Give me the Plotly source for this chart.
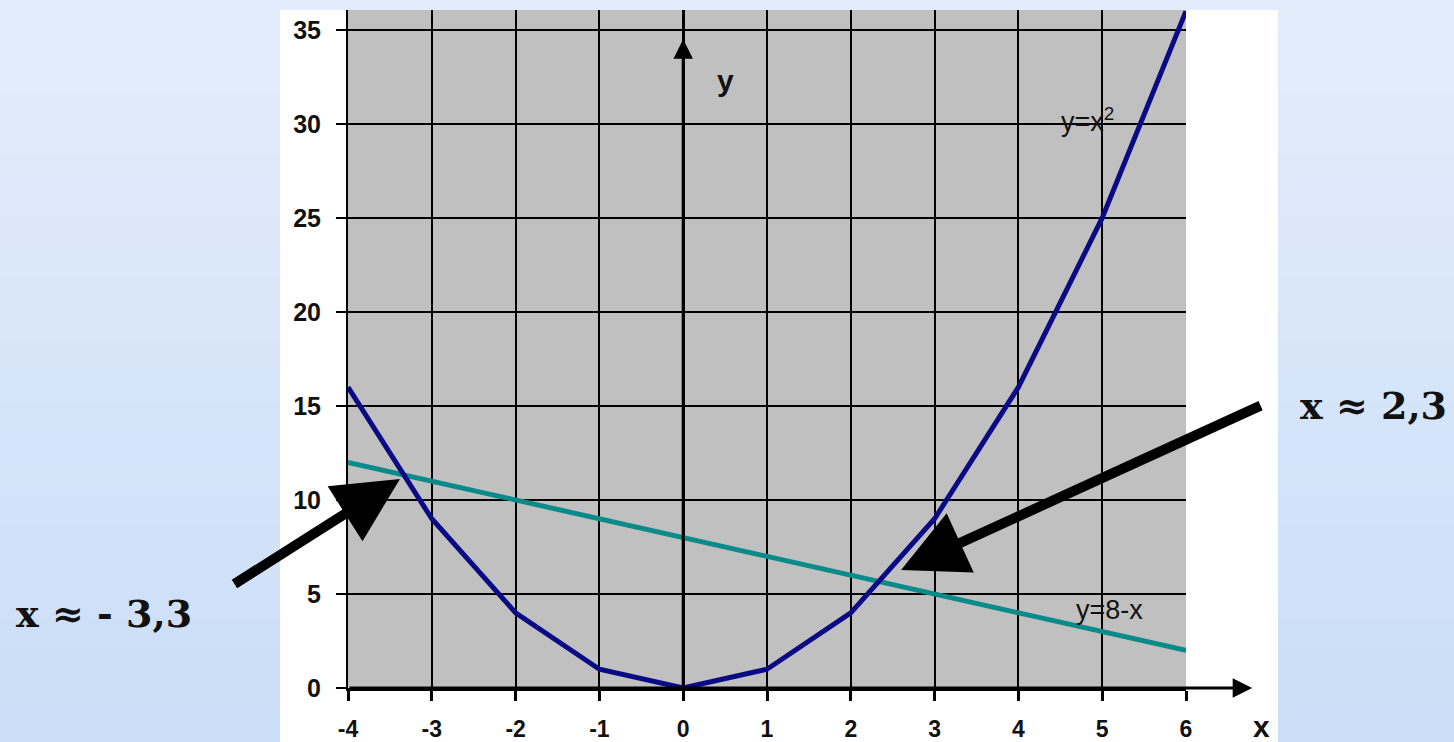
import plotly.graph_objects as go

# data
x_vals = [-4, -3, -2, -1, 0, 1, 2, 3, 4, 5, 6]
y_square = [16, 9, 4, 1, 0, 1, 4, 9, 16, 25, 36]
y_line = [12, 11, 10, 9, 8, 7, 6, 5, 4, 3, 2]
x_ticks = [-4, -3, -2, -1, 0, 1, 2, 3, 4, 5, 6]
x_ticktext = ["-4", "-3", "-2", "-1", "0", "1", "2", "3", "4", "5", "6"]
y_ticks = [0, 5, 10, 15, 20, 25, 30, 35]
roots = ["x ≈ - 3,3", "x ≈ 2,3"]

W, H = 1454, 742
L, R, T, B = 348, 1186, 10, 688


def px_to_paper(px, py):
    return (px - L) / (R - L), (B - py) / (B - T)


fig = go.Figure()

fig.add_trace(go.Scatter(x=x_vals, y=y_line, mode="lines",
                         line=dict(color="#0b8a8a", width=5), hoverinfo="skip"))
fig.add_trace(go.Scatter(x=x_vals, y=y_square, mode="lines",
                         line=dict(color="#0a0a85", width=5), hoverinfo="skip"))

# blue background outside the white panel (simple vertical gradient)
shapes = []
n = 24
top_c = (227, 236, 251)
bot_c = (203, 222, 247)
for i in range(n):
    t = i / (n - 1)
    c = tuple(round(top_c[k] + (bot_c[k] - top_c[k]) * t) for k in range(3))
    col = "rgb(%d,%d,%d)" % c
    y0p, y1p = H * i / n, H * (i + 1) / n + 1
    for xa, xb in [(0, 280), (1278, W)]:
        x0, y0 = px_to_paper(xa, y1p)
        x1, y1 = px_to_paper(xb, y0p)
        shapes.append(dict(type="rect", xref="paper", yref="paper",
                           x0=x0, x1=x1, y0=y0, y1=y1,
                           fillcolor=col, line_width=0, layer="below"))
    if y0p < 10:
        x0, y0 = px_to_paper(280, 10)
        x1, y1 = px_to_paper(1278, 0)
        shapes.append(dict(type="rect", xref="paper", yref="paper",
                           x0=x0, x1=x1, y0=y0, y1=y1,
                           fillcolor=col, line_width=0, layer="below"))

fig.update_layout(shapes=shapes)

annotations = []
# axis arrows
annotations.append(dict(x=6.79, y=0, ax=-4, ay=0, xref="x", yref="y", axref="x", ayref="y",
                        text="", showarrow=True, arrowhead=2, arrowsize=1.3, arrowwidth=3,
                        arrowcolor="black"))
annotations.append(dict(x=0, y=34.5, ax=0, ay=0, xref="x", yref="y", axref="x", ayref="y",
                        text="", showarrow=True, arrowhead=2, arrowsize=1.3, arrowwidth=3,
                        arrowcolor="black"))
# axis letters
annotations.append(dict(x=0.5, y=32.3, text="<b>y</b>", showarrow=False,
                        font=dict(family="Liberation Sans", size=30, color="#111")))
lx, ly = px_to_paper(1261, 726)
annotations.append(dict(x=lx, y=ly, xref="paper", yref="paper", text="<b>x</b>",
                        showarrow=False, xanchor="center", yanchor="middle",
                        font=dict(family="Liberation Sans", size=30, color="#111")))
# curve labels
annotations.append(dict(x=4.82, y=30.2, text="y=x<sup>2</sup>", showarrow=False,
                        font=dict(family="Liberation Sans", size=27, color="#111")))
annotations.append(dict(x=5.09, y=4.15, text="y=8-x", showarrow=False,
                        font=dict(family="Liberation Sans", size=27, color="#111")))
# pointer arrows
annotations.append(dict(x=-3.38, y=11.12, ax=-167, ay=106, xref="x", yref="y",
                        text="", showarrow=True, arrowhead=2, arrowsize=1.3, arrowwidth=10,
                        arrowcolor="black"))
annotations.append(dict(x=2.60, y=6.28, ax=361, ay=-165, xref="x", yref="y",
                        text="", showarrow=True, arrowhead=2, arrowsize=1.3, arrowwidth=10,
                        arrowcolor="black"))
# root labels
px1, py1 = px_to_paper(104, 613)
annotations.append(dict(x=px1, y=py1, xref="paper", yref="paper", text="<b>%s</b>" % roots[0],
                        showarrow=False, xanchor="center", yanchor="middle",
                        font=dict(family="DejaVu Serif", size=38, color="#111")))
px2, py2 = px_to_paper(1373, 405)
annotations.append(dict(x=px2, y=py2, xref="paper", yref="paper", text="<b>%s</b>" % roots[1],
                        showarrow=False, xanchor="center", yanchor="middle",
                        font=dict(family="DejaVu Serif", size=38, color="#111")))

fig.update_layout(
    annotations=annotations,
    width=W, height=H,
    margin=dict(l=L, r=W - R, t=T, b=H - B, pad=0, autoexpand=False),
    paper_bgcolor="white",
    plot_bgcolor="#c0c0c0",
    showlegend=False,
)

fig.update_xaxes(
    range=[-4, 6], tickvals=x_ticks, ticktext=x_ticktext,
    showgrid=True, gridcolor="black", gridwidth=1.5,
    zeroline=True, zerolinecolor="black", zerolinewidth=3,
    showline=True, linecolor="black", linewidth=3,
    ticks="outside", ticklen=10, tickwidth=3, tickcolor="black",
    ticklabelstandoff=8, automargin=False,
    tickfont=dict(family="Liberation Sans", size=23, color="#111", weight="bold"),
    fixedrange=True,
)
fig.update_yaxes(
    range=[0, 36.06], tickvals=y_ticks,
    showgrid=True, gridcolor="black", gridwidth=1.5,
    zeroline=False,
    showline=True, linecolor="black", linewidth=2,
    ticks="outside", ticklen=10, tickwidth=1.5, tickcolor="black",
    ticklabelstandoff=10, automargin=False,
    tickfont=dict(family="Liberation Sans", size=25, color="#111", weight="bold"),
    fixedrange=True,
)

fig.write_html("out.html", config={"displayModeBar": False},
               post_script="document.body.style.margin='0';")
